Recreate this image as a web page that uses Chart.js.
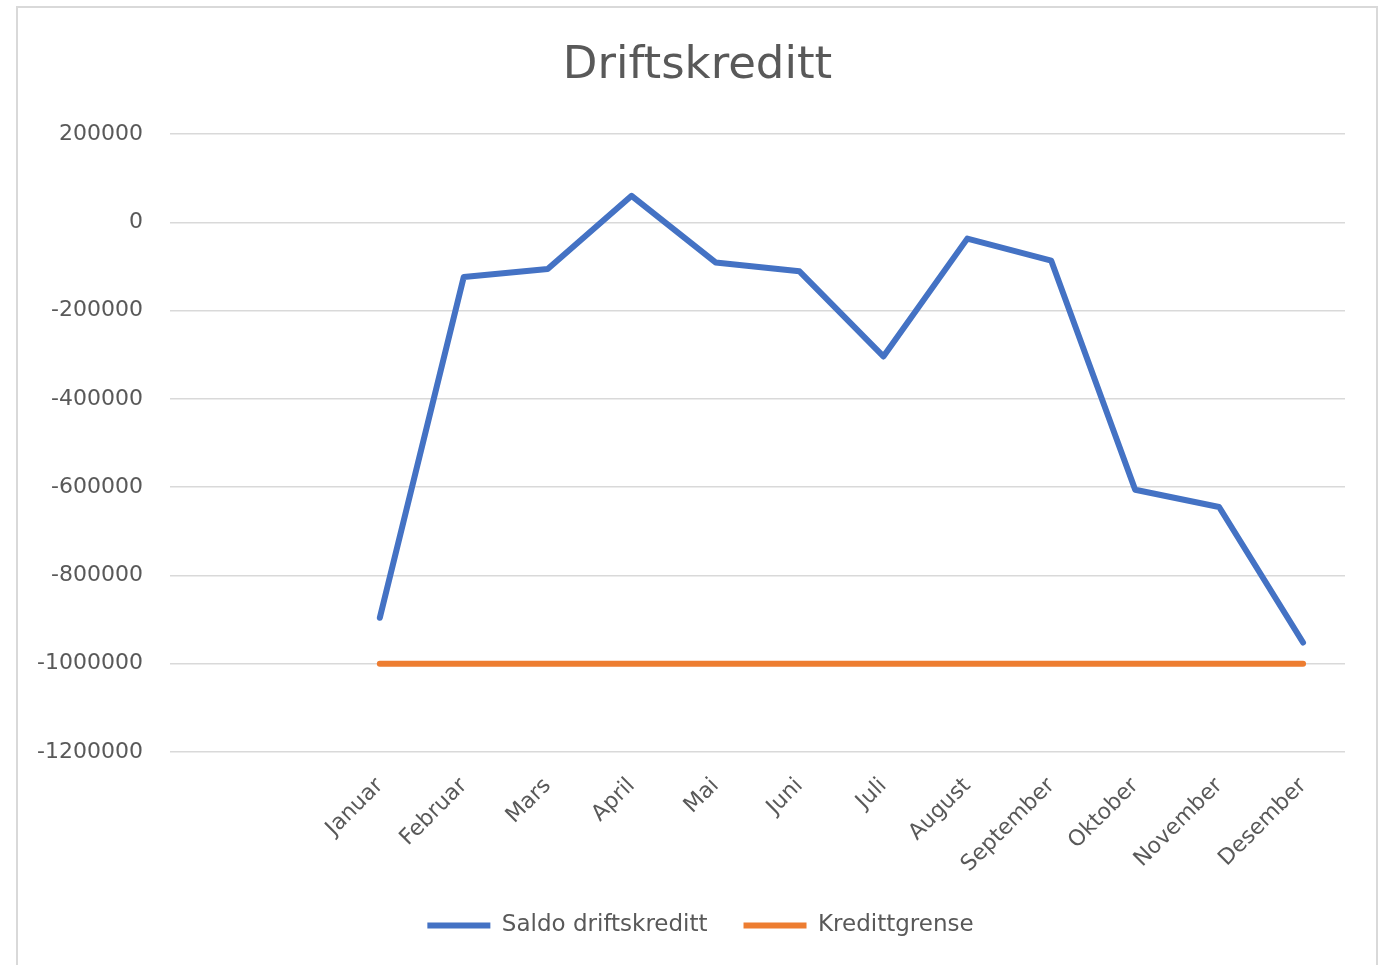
<!DOCTYPE html>
<html>
<head>
<meta charset="utf-8">
<script src="https://cdn.jsdelivr.net/npm/chart.js@4/dist/chart.umd.min.js"></script>
<style>
  html, body { margin: 0; padding: 0; background: #ffffff; overflow: hidden; }
  #frame { position: absolute; left: 16px; top: 6px; width: 1362px; height: 990px; border: 2px solid #d9d9d9; box-sizing: border-box; }
  #wrap { position: absolute; left: 0; top: 0; width: 1384px; height: 965px; }
</style>
</head>
<body>
<div id="frame"></div>
<div id="wrap"><canvas id="c" width="1384" height="965"></canvas></div>
<script>
const chartTitle = 'Driftskreditt';
const categories = ['', '', 'Januar', 'Februar', 'Mars', 'April', 'Mai', 'Juni', 'Juli', 'August', 'September', 'Oktober', 'November', 'Desember'];
const saldoDriftskreditt = [null, null, -896000, -124000, -106000, 60000, -91000, -111000, -304000, -37000, -87000, -606000, -645000, -952000];
const kredittgrense = [null, null, -1000000, -1000000, -1000000, -1000000, -1000000, -1000000, -1000000, -1000000, -1000000, -1000000, -1000000, -1000000];
const seriesNames = ['Saldo driftskreditt', 'Kredittgrense'];
const yMin = -1200000, yMax = 200000, yStep = 200000;

const textColor = '#595959';
const fontFamily = '"DejaVu Sans", sans-serif';

// shift title and legend so they are centred on the whole frame, as in the original
const centreShift = {
  id: 'centreShift',
  afterLayout(chart) {
    const t = chart.titleBlock;
    if (t) { t.left += 25; t.right += 25; }
    const l = chart.legend;
    if (l) { l.left += 28; l.right += 28; }
  }
};

new Chart(document.getElementById('c'), {
  type: 'line',
  data: {
    labels: categories,
    datasets: [
      { label: seriesNames[0], data: saldoDriftskreditt, borderColor: '#4472C4', backgroundColor: '#4472C4', borderWidth: 6, pointRadius: 0, borderCapStyle: 'round', borderJoinStyle: 'round', tension: 0 },
      { label: seriesNames[1], data: kredittgrense, borderColor: '#ED7D31', backgroundColor: '#ED7D31', borderWidth: 6, pointRadius: 0, borderCapStyle: 'round', borderJoinStyle: 'round', tension: 0 }
    ]
  },
  plugins: [centreShift],
  options: {
    responsive: false,
    animation: false,
    devicePixelRatio: 1,
    layout: { padding: { left: 0, right: 39, top: 0, bottom: 18 } },
    plugins: {
      title: {
        display: true, text: chartTitle, color: textColor,
        font: { family: fontFamily, size: 45, weight: 'normal' },
        padding: { top: 39, bottom: 41 }
      },
      legend: {
        position: 'bottom',
        labels: {
          color: textColor,
          font: { family: fontFamily, size: 23 },
          usePointStyle: true, pointStyle: 'line', pointStyleWidth: 63,
          padding: 36
        }
      },
      tooltip: { enabled: false }
    },
    scales: {
      x: {
        offset: true,
        grid: { display: false, drawTicks: false },
        border: { display: false },
        ticks: { color: textColor, font: { family: fontFamily, size: 22 }, minRotation: 45, maxRotation: 45, autoSkip: false, padding: 21 },
        afterFit: (s) => { s.height = 126; }
      },
      y: {
        min: yMin, max: yMax,
        grid: { color: '#d9d9d9', lineWidth: 1.5, drawTicks: false },
        border: { display: false },
        ticks: { stepSize: yStep, color: textColor, font: { family: fontFamily, size: 22 }, padding: 27,
                 callback: (v) => String(v) },
        afterFit: (s) => { s.width = 170; }
      }
    }
  }
});
</script>
</body>
</html>
